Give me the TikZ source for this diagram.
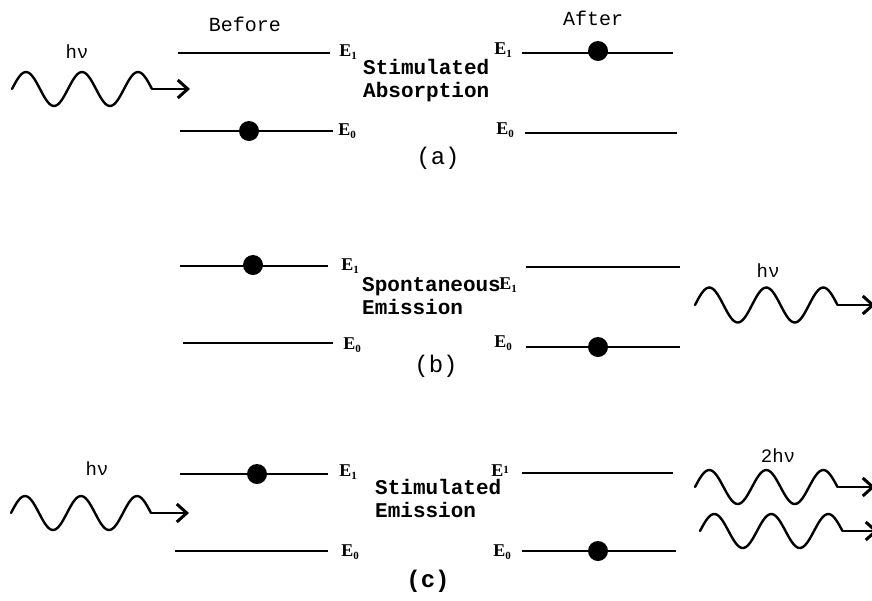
\documentclass[tikz,border=0pt]{standalone}
\usepackage{fontspec}
\setmainfont{Liberation Serif}
\setmonofont{Liberation Mono}
\usetikzlibrary{arrows.meta}

% energy level label: E with a lowered (or raised) index
\newcommand{\lvl}[1]{E\raisebox{-0.3ex}{\fontsize{11}{11}\selectfont #1}}
\newcommand{\lvlup}[1]{E\raisebox{0.45ex}{\fontsize{11}{11}\selectfont #1}}

\begin{document}
\begin{tikzpicture}[x=1pt,y=-1pt,
  level/.style={line width=2.4pt},
  electron/.style={circle,fill=black,inner sep=0pt,minimum size=20pt},
  elabel/.style={font=\bfseries\fontsize{18}{18}\selectfont,inner sep=0pt},
  heading/.style={font=\ttfamily\fontsize{20}{20}\selectfont,inner sep=0pt},
  process/.style={font=\ttfamily\bfseries\fontsize{21}{23}\selectfont,align=left,inner sep=0pt,anchor=west},
  panel/.style={font=\ttfamily\fontsize{24}{24}\selectfont,inner sep=0pt},
  photon/.style={font=\ttfamily\fontsize{19}{19}\selectfont,inner sep=0pt},
  wave/.style={line width=2.4pt,line join=round,line cap=round},
  ray/.style={line width=2.6pt,-{Straight Barb[length=10pt,width=18pt,line width=3pt]}}
]
\useasboundingbox (0,0) rectangle (872,600);
\clip (0,0) rectangle (872,600);

% ---------------- (a) stimulated absorption ----------------
\node[heading] (before) at (245,24) {Before};
\node[heading] (after)  at (593,18) {After};
\node[photon] (hva) at (77,52) {hν};
\draw[wave] plot[domain=0:900,samples=91] ({12+\x/360*56},{89-17*sin(\x)});
\coordinate (wa) at (152,89);
\coordinate (ta) at (190,89);
\draw[ray] (wa) -- (ta);

\coordinate (a1l) at (178,53);  \coordinate (a1r) at (330,53);
\coordinate (a0l) at (180,131); \coordinate (a0r) at (333,131);
\draw[level] (a1l) -- (a1r);
\draw[level] (a0l) -- (a0r);
\node[electron] (ea) at (249,131) {};
\node[elabel] (la1) at (348,52) {\lvl{1}};
\node[elabel] (la0) at (347,131) {\lvl{0}};

\node[process] (absorb) at (363,81) {Stimulated\\Absorption};

\coordinate (b1l) at (522,53);  \coordinate (b1r) at (673,53);
\coordinate (b0l) at (525,133); \coordinate (b0r) at (677,133);
\draw[level] (b1l) -- (b1r);
\draw[level] (b0l) -- (b0r);
\node[electron] (eb) at (598,51) {};
\node[elabel] (lb1) at (503,50) {\lvl{1}};
\node[elabel] (lb0) at (505,130) {\lvl{0}};
\node[panel] (pa) at (438,158) {(a)};

% ---------------- (b) spontaneous emission ----------------
\coordinate (c1l) at (180,266); \coordinate (c1r) at (328,266);
\coordinate (c0l) at (183,343); \coordinate (c0r) at (333,343);
\draw[level] (c1l) -- (c1r);
\draw[level] (c0l) -- (c0r);
\node[electron] (ec) at (253,265) {};
\node[elabel] (lc1) at (350,266) {\lvl{1}};
\node[elabel] (lc0) at (352,345) {\lvl{0}};

\node[process] (spont) at (362,296) {Spontaneous\\Emission};

\coordinate (d1l) at (526,267); \coordinate (d1r) at (680,267);
\coordinate (d0l) at (526,347); \coordinate (d0r) at (680,347);
\draw[level] (d1l) -- (d1r);
\draw[level] (d0l) -- (d0r);
\node[electron] (ed) at (598,347) {};
\node[elabel] (ld1) at (508,285) {\lvl{1}};
\node[elabel] (ld0) at (503,343) {\lvl{0}};
\node[panel] (pb) at (436,366) {(b)};

\node[photon] (hvb) at (768,271) {hν};
\draw[wave] plot[domain=0:900,samples=91] ({695+\x/360*57},{305-17.5*sin(\x)});
\coordinate (wb) at (837.5,305);
\coordinate (tb) at (875,305);
\draw[ray] (wb) -- (tb);

% ---------------- (c) stimulated emission ----------------
\node[photon] (hvc) at (97,469) {hν};
\draw[wave] plot[domain=0:900,samples=91] ({11+\x/360*56},{513-17*sin(\x)});
\coordinate (wc) at (151,513);
\coordinate (tc) at (189,513);
\draw[ray] (wc) -- (tc);

\coordinate (e1l) at (180,474); \coordinate (e1r) at (328,474);
\coordinate (e0l) at (175,551); \coordinate (e0r) at (328,551);
\draw[level] (e1l) -- (e1r);
\draw[level] (e0l) -- (e0r);
\node[electron] (ee) at (257,474) {};
\node[elabel] (le1) at (348,472) {\lvl{1}};
\node[elabel] (le0) at (350,552) {\lvl{0}};

\node[process] (stim) at (375,498) {Stimulated\\Emission};

\coordinate (f1l) at (522,473); \coordinate (f1r) at (673,473);
\coordinate (f0l) at (522,551); \coordinate (f0r) at (676,551);
\draw[level] (f1l) -- (f1r);
\draw[level] (f0l) -- (f0r);
\node[electron] (ef) at (598,551) {};
\node[elabel] (lf1) at (500,471) {\lvlup{1}};
\node[elabel] (lf0) at (502,552) {\lvl{0}};
\node[panel,font=\ttfamily\bfseries\fontsize{24}{24}\selectfont] (pc) at (428,581) {(c)};

\node[photon] (hvd) at (778,456) {2hν};
\draw[wave] plot[domain=0:900,samples=91] ({695+\x/360*57},{487-17*sin(\x)});
\coordinate (wd) at (837.5,487);
\coordinate (td) at (875,487);
\draw[ray] (wd) -- (td);
\draw[wave] plot[domain=0:900,samples=91] ({700+\x/360*57},{531-17*sin(\x)});
\coordinate (we) at (842.5,531);
\coordinate (te) at (878,531);
\draw[ray] (we) -- (te);
\end{tikzpicture}
\end{document}
